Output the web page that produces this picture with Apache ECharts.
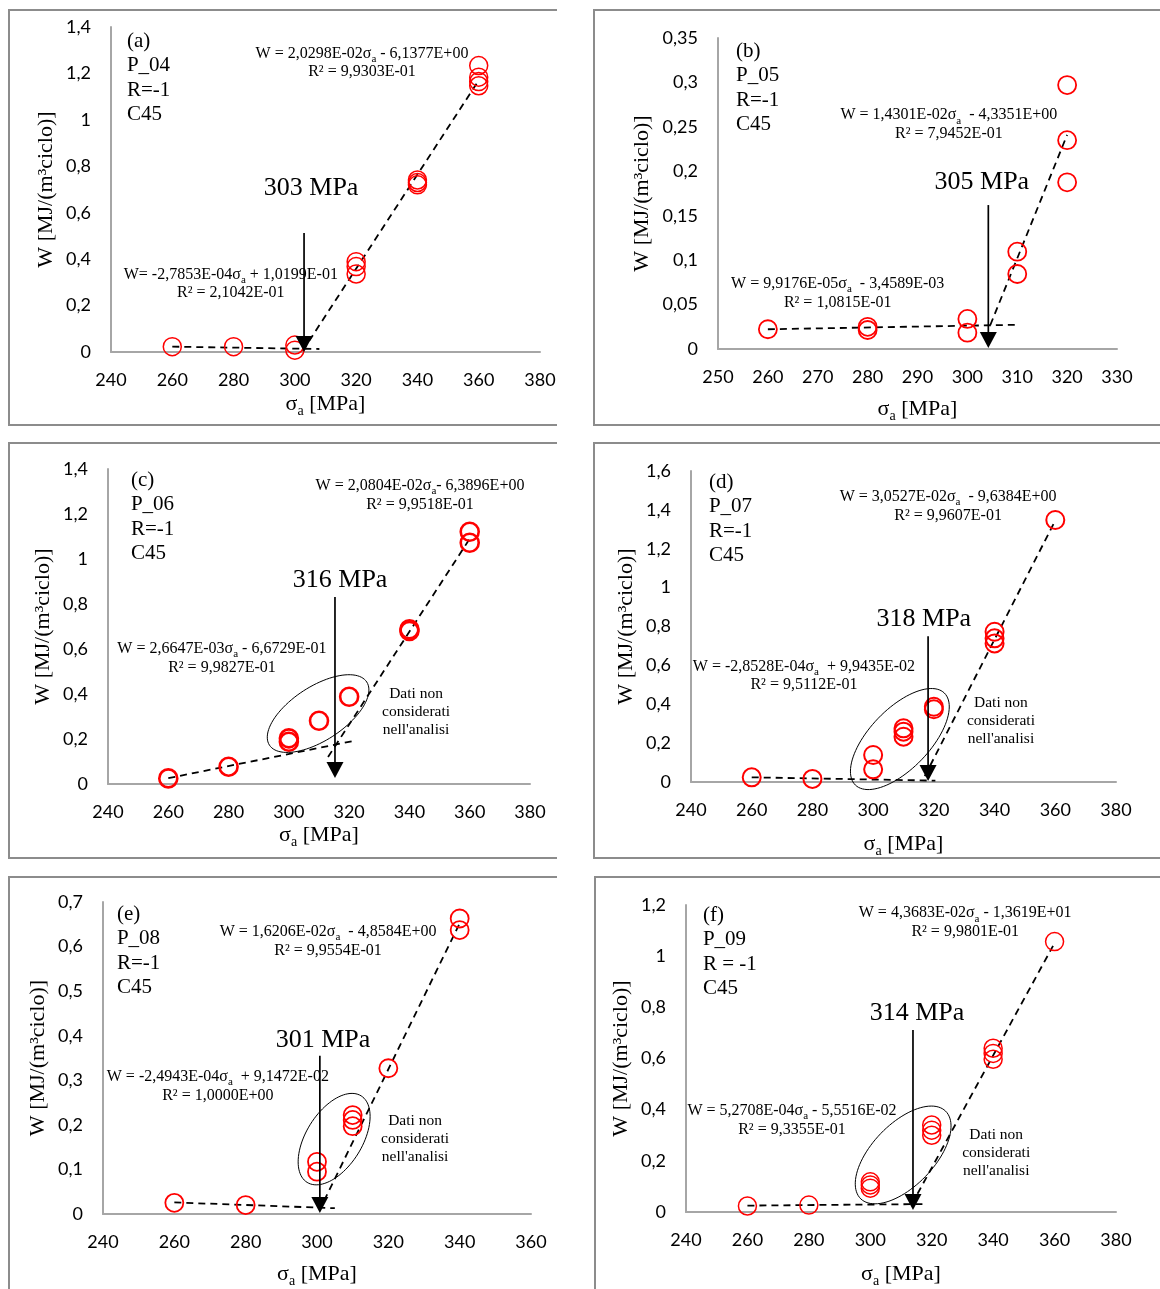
<!DOCTYPE html>
<html><head><meta charset="utf-8">
<script src="https://cdn.jsdelivr.net/npm/echarts@6/dist/echarts.min.js"></script>
<style>html,body{margin:0;padding:0;background:#fff}#c{width:1160px;height:1289px}</style>
</head><body><div id="c"></div>
<script>
// ---------------- DATA ----------------
// axis ranges: [min, max, interval]
const xAxisA = [240, 380, 20], yAxisA = [0, 1.4, 0.2];
const xAxisB = [250, 330, 10], yAxisB = [0, 0.35, 0.05];
const xAxisC = [240, 380, 20], yAxisC = [0, 1.4, 0.2];
const xAxisD = [240, 380, 20], yAxisD = [0, 1.6, 0.2];
const xAxisE = [240, 360, 20], yAxisE = [0, 0.7, 0.1];
const xAxisF = [240, 380, 20], yAxisF = [0, 1.2, 0.2];

const tagA = ['(a)', 'P_04', 'R=-1', 'C45'];
const tagB = ['(b)', 'P_05', 'R=-1', 'C45'];
const tagC = ['(c)', 'P_06', 'R=-1', 'C45'];
const tagD = ['(d)', 'P_07', 'R=-1', 'C45'];
const tagE = ['(e)', 'P_08', 'R=-1', 'C45'];
const tagF = ['(f)', 'P_09', 'R = -1', 'C45'];

// measured points: sigma_a [MPa], W [MJ/(m3 ciclo)]
const sigmaA = [260, 280, 300, 300, 320, 320, 320, 340, 340, 340, 360, 360, 360, 360];
const wA     = [0.023, 0.023, 0.030, 0.008, 0.389, 0.368, 0.336, 0.741, 0.730, 0.720, 1.234, 1.184, 1.165, 1.147];
const sigmaB = [260, 280, 280, 300, 300, 310, 310, 320, 320, 320];
const wB     = [0.0222, 0.025, 0.0214, 0.0338, 0.0184, 0.1095, 0.0844, 0.297, 0.235, 0.1876];
const sigmaC = [260, 280, 300, 300, 310, 320, 340, 340, 360, 360];
const wC     = [0.025, 0.077, 0.203, 0.188, 0.281, 0.388, 0.688, 0.680, 1.121, 1.072];
const sigmaD = [260, 280, 300, 300, 310, 310, 310, 320, 320, 340, 340, 340, 360];
const wD     = [0.024, 0.016, 0.139, 0.065, 0.276, 0.259, 0.233, 0.387, 0.374, 0.773, 0.739, 0.713, 1.348];
const sigmaE = [260, 280, 300, 300, 310, 310, 310, 320, 340, 340];
const wE     = [0.025, 0.020, 0.117, 0.095, 0.222, 0.211, 0.197, 0.327, 0.663, 0.637];
const sigmaF = [260, 280, 300, 300, 300, 320, 320, 320, 340, 340, 340, 360];
const wF     = [0.0235, 0.027, 0.118, 0.106, 0.093, 0.340, 0.320, 0.300, 0.640, 0.620, 0.597, 1.057];

// dashed trend lines (end points)
const lowFitA = [[260, 0.023], [308, 0.013]],   highFitA = [[302.5, 0.004], [360, 1.17]];
const lowFitB = [[260, 0.0222], [309.5, 0.0272]], highFitB = [[304.6, 0.027], [320, 0.241]];
const lowFitC = [[260, 0.026], [321, 0.19]],    highFitC = [[313, 0.12], [360, 1.09]];
const lowFitD = [[260, 0.024], [320.5, 0.007]], highFitD = [[317, 0.03], [359.5, 1.33]];
const lowFitE = [[260, 0.026], [305, 0.013]],   highFitE = [[302, 0.03], [340, 0.652]];
const lowFitF = [[260, 0.025], [317, 0.031]],   highFitF = [[313.5, 0.03], [359.5, 1.04]];

// equations (text)
const eqHighA = ['W = 2,0298E-02σ{s|a} - 6,1377E+00', 'R² = 9,9303E-01'];
const eqLowA  = ['W= -2,7853E-04σ{s|a} + 1,0199E-01', 'R² = 2,1042E-01'];
const eqHighB = ['W = 1,4301E-02σ{s|a}  - 4,3351E+00', 'R² = 7,9452E-01'];
const eqLowB  = ['W = 9,9176E-05σ{s|a}  - 3,4589E-03', 'R² = 1,0815E-01'];
const eqHighC = ['W = 2,0804E-02σ{s|a}- 6,3896E+00', 'R² = 9,9518E-01'];
const eqLowC  = ['W = 2,6647E-03σ{s|a} - 6,6729E-01', 'R² = 9,9827E-01'];
const eqHighD = ['W = 3,0527E-02σ{s|a}  - 9,6384E+00', 'R² = 9,9607E-01'];
const eqLowD  = ['W = -2,8528E-04σ{s|a}  + 9,9435E-02', 'R² = 9,5112E-01'];
const eqHighE = ['W = 1,6206E-02σ{s|a}  - 4,8584E+00', 'R² = 9,9554E-01'];
const eqLowE  = ['W = -2,4943E-04σ{s|a}  + 9,1472E-02', 'R² = 1,0000E+00'];
const eqHighF = ['W = 4,3683E-02σ{s|a} - 1,3619E+01', 'R² = 9,9801E-01'];
const eqLowF  = ['W = 5,2708E-04σ{s|a} - 5,5516E-02', 'R² = 9,3355E-01'];

// threshold arrows: [sigma, W top, W tip] and label
const arrowA = [303, 0.513, 0.0],   thrA = '303 MPa';
const arrowB = [304.2, 0.162, 0.001], thrB = '305 MPa';
const arrowC = [315.3, 0.831, 0.027], thrC = '316 MPa';
const arrowD = [318.1, 0.75, 0.005],  thrD = '318 MPa';
const arrowE = [300.8, 0.355, 0.002], thrE = '301 MPa';
const arrowF = [313.9, 0.711, 0.008], thrF = '314 MPa';

const excludedNote = 'Dati non\nconsiderati\nnell\'analisi';
const xTitle = 'σ{s|a} [MPa]';
const yTitle = 'W [MJ/(m³ciclo)]';

// ---------------- LAYOUT / STYLE ----------------
const SERIF = '"Liberation Serif", "Times New Roman", serif';
const SANS = 'Lato, Carlito, Calibri, sans-serif';
const layout = [
  {grid:{left:111, top:27, width:429, height:325}, xGap:39, yGap:54, ring:1.5,
   frame:[[557,10],[9,10],[9,425],[557,425]],
   tag:[245.2,1.392], eqHigh:[321.9,1.246], eqLow:[279.1,0.295], thr:[305.3,0.707]},
  {grid:{left:718, top:38, width:399, height:311}, xGap:47, yGap:65, ring:1.8,
   frame:[[1162,10],[594,10],[594,425],[1162,425]],
   tag:[253.6,0.349], eqHigh:[296.3,0.253], eqLow:[274.0,0.063], thr:[302.9,0.188]},
  {grid:{left:108, top:469, width:422, height:315}, xGap:35, yGap:54, ring:2.6,
   frame:[[557,443],[9,443],[9,858],[557,858]],
   tag:[247.6,1.405], eqHigh:[343.5,1.284], eqLow:[277.8,0.56], thr:[317,0.907],
   ell:{c:[309.7,0.313], rx:58, ry:27, rot:33}, note:[342.2,0.32]},
  {grid:{left:691, top:471, width:425, height:311}, xGap:49, yGap:54, ring:2,
   frame:[[1162,443],[594,443],[594,858],[1162,858]],
   tag:[245.9,1.605], eqHigh:[324.7,1.42], eqLow:[277.2,0.548], thr:[316.7,0.838],
   ell:{c:[308.8,0.221], rx:64, ry:30, rot:46}, note:[342.1,0.314]},
  {grid:{left:103, top:902, width:428, height:312}, xGap:47, yGap:54, ring:1.8,
   frame:[[557,877],[9,877],[9,1295]],
   tag:[243.9,0.7005], eqHigh:[303.1,0.6125], eqLow:[272.2,0.287], thr:[301.7,0.39],
   ell:{c:[304.8,0.168], rx:51, ry:28, rot:58}, note:[327.5,0.168]},
  {grid:{left:686, top:905, width:430, height:307}, xGap:49, yGap:54, ring:1.5,
   frame:[[1162,877],[595,877],[595,1295]],
   tag:[245.5,1.208], eqHigh:[330.9,1.133], eqLow:[274.5,0.36], thr:[315.2,0.778],
   ell:{c:[310.7,0.223], rx:61, ry:31, rot:46}, note:[341,0.23]}
];

const panels = [
  {x:xAxisA, y:yAxisA, tag:tagA, s:sigmaA, w:wA, low:lowFitA, high:highFitA, eqH:eqHighA, eqL:eqLowA, arrow:arrowA, thr:thrA},
  {x:xAxisB, y:yAxisB, tag:tagB, s:sigmaB, w:wB, low:lowFitB, high:highFitB, eqH:eqHighB, eqL:eqLowB, arrow:arrowB, thr:thrB},
  {x:xAxisC, y:yAxisC, tag:tagC, s:sigmaC, w:wC, low:lowFitC, high:highFitC, eqH:eqHighC, eqL:eqLowC, arrow:arrowC, thr:thrC},
  {x:xAxisD, y:yAxisD, tag:tagD, s:sigmaD, w:wD, low:lowFitD, high:highFitD, eqH:eqHighD, eqL:eqLowD, arrow:arrowD, thr:thrD},
  {x:xAxisE, y:yAxisE, tag:tagE, s:sigmaE, w:wE, low:lowFitE, high:highFitE, eqH:eqHighE, eqL:eqLowE, arrow:arrowE, thr:thrE},
  {x:xAxisF, y:yAxisF, tag:tagF, s:sigmaF, w:wF, low:lowFitF, high:highFitF, eqH:eqHighF, eqL:eqLowF, arrow:arrowF, thr:thrF}
];

function fmt(v) { return String(parseFloat(v.toFixed(3))).replace('.', ','); }

const subRich = {s:{fontSize:11, fontFamily:SERIF, lineHeight:11, verticalAlign:'bottom', fill:'#000', color:'#000'}};

function eqLines(lines, c) {
  return [
    {type:'text', x:c[0], y:c[1]-9, style:{text:lines[0], fill:'#000', fontSize:16, fontFamily:SERIF,
      lineHeight:22, align:'center', verticalAlign:'middle', rich:subRich}},
    {type:'text', x:c[0], y:c[1]+9.5, style:{text:lines[1], fill:'#000', fontSize:16, fontFamily:SERIF,
      align:'center', verticalAlign:'middle'}}
  ];
}

function makeRender(p, L) {
  return function (params, api) {
    const ch = [];
    // tag
    const t = api.coord(L.tag);
    ch.push({type:'text', x:t[0], y:t[1], style:{text:p.tag.join('\n'), fill:'#000', fontSize:21,
      fontFamily:SERIF, lineHeight:24.5, align:'left', verticalAlign:'top'}});
    // equations
    ch.push(...eqLines(p.eqH, api.coord(L.eqHigh)));
    ch.push(...eqLines(p.eqL, api.coord(L.eqLow)));
    // threshold label
    const th = api.coord(L.thr);
    ch.push({type:'text', x:th[0], y:th[1], style:{text:p.thr, fill:'#000', fontSize:26, fontFamily:SERIF,
      align:'center', verticalAlign:'middle'}});
    // arrow
    const a0 = api.coord([p.arrow[0], p.arrow[1]]);
    const a1 = api.coord([p.arrow[0], p.arrow[2]]);
    const hh = 16, hw = 8.5;
    ch.push({type:'line', shape:{x1:a0[0], y1:a0[1], x2:a1[0], y2:a1[1]-hh+1}, style:{stroke:'#000', lineWidth:1.7}});
    ch.push({type:'polygon', shape:{points:[[a1[0]-hw, a1[1]-hh],[a1[0]+hw, a1[1]-hh],[a1[0], a1[1]]]}, style:{fill:'#000'}});
    // ellipse + note
    if (L.ell) {
      const c = api.coord(L.ell.c), th2 = L.ell.rot * Math.PI / 180, pts = [];
      for (let k = 0; k < 96; k++) {
        const u = k / 96 * Math.PI * 2;
        const ex = L.ell.rx * Math.cos(u), ey = L.ell.ry * Math.sin(u);
        pts.push([c[0] + ex * Math.cos(th2) - ey * Math.sin(th2), c[1] - (ex * Math.sin(th2) + ey * Math.cos(th2))]);
      }
      ch.push({type:'polygon', shape:{points:pts}, style:{fill:'none', stroke:'#000', lineWidth:1}});
      const n = api.coord(L.note);
      ch.push({type:'text', x:n[0], y:n[1], style:{text:excludedNote, fill:'#000', fontSize:15.5, fontFamily:SERIF,
        lineHeight:18, align:'center', verticalAlign:'middle'}});
    }
    return {type:'group', children:ch};
  };
}

const grids = [], xAxes = [], yAxes = [], series = [], graphics = [];
panels.forEach((p, i) => {
  const L = layout[i];
  grids.push(Object.assign({containLabel:false}, L.grid));
  xAxes.push({gridIndex:i, type:'value', min:p.x[0], max:p.x[1], interval:p.x[2],
    name:xTitle, nameLocation:'middle', nameGap:L.xGap,
    nameTextStyle:{color:'#000', fontFamily:SERIF, fontSize:22, lineHeight:27,
      rich:{s:{fontSize:14, fontFamily:SERIF, lineHeight:14, verticalAlign:'bottom', color:'#000'}}},
    axisLine:{onZero:false, lineStyle:{color:'#a6a6a6', width:2}}, axisTick:{show:false}, splitLine:{show:false},
    axisLabel:{margin:19, color:'#000', fontFamily:SANS, fontSize:18}});
  yAxes.push({gridIndex:i, type:'value', min:p.y[0], max:p.y[1], interval:p.y[2],
    name:yTitle, nameLocation:'middle', nameRotate:90, nameGap:L.yGap,
    nameTextStyle:{color:'#000', fontFamily:SERIF, fontSize:22},
    axisLine:{show:true, onZero:false, lineStyle:{color:'#a6a6a6', width:2}}, axisTick:{show:false}, splitLine:{show:false},
    axisLabel:{margin:20, color:'#000', fontFamily:SANS, fontSize:18, formatter:fmt}});
  const lineStyle = {color:'#000', width:1.8, type:[7,5]};
  series.push({type:'line', xAxisIndex:i, yAxisIndex:i, data:p.low, symbol:'none', lineStyle, z:2, silent:true});
  series.push({type:'line', xAxisIndex:i, yAxisIndex:i, data:p.high, symbol:'none', lineStyle, z:2, silent:true});
  series.push({type:'scatter', xAxisIndex:i, yAxisIndex:i, data:p.s.map((s, k) => [s, p.w[k]]),
    symbol:'circle', symbolSize:18, itemStyle:{color:'rgba(255,255,255,0)', borderColor:'#ff0000', borderWidth:L.ring, opacity:1}, z:3, silent:true});
  series.push({type:'custom', xAxisIndex:i, yAxisIndex:i, data:[[p.x[0], 0]], renderItem:makeRender(p, L), z:5, silent:true, clip:false});
  graphics.push({type:'polyline', shape:{points:L.frame}, style:{stroke:'#8c8c8c', lineWidth:2, fill:null}, silent:true});
});

const chart = echarts.init(document.getElementById('c'));
chart.setOption({
  animation:false, backgroundColor:'#fff',
  grid:grids, xAxis:xAxes, yAxis:yAxes, series:series, graphic:graphics
});
</script></body></html>
